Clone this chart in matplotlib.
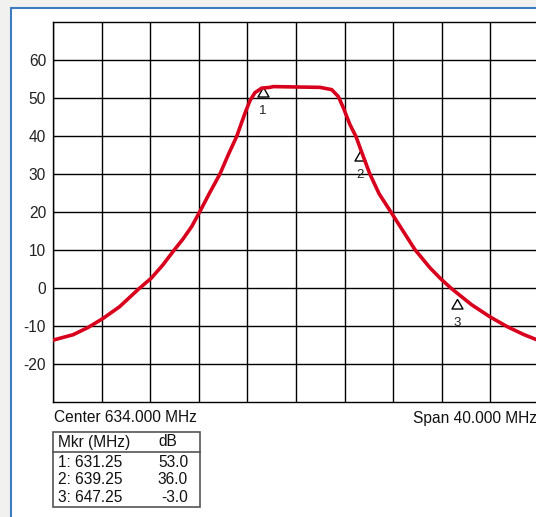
import numpy as np
import matplotlib.pyplot as plt
from matplotlib.patches import Rectangle
from matplotlib.lines import Line2D

plt.rcParams['font.family'] = ['Liberation Sans', 'DejaVu Sans']

# trace
freq = [614.0, 614.14, 615.65, 616.88, 618.12, 619.49, 621.0, 622.09, 623.05, 624.0,
        624.7, 625.42, 626.1, 626.92, 627.74, 628.43, 629.12, 629.8, 630.21, 630.62,
        631.18, 631.86, 632.13, 634.06, 635.98, 636.94, 637.48, 637.9, 638.44, 638.93,
        639.54, 640.08, 640.84, 641.87, 642.83, 643.79, 645.03, 645.92, 646.74, 648.45,
        649.97, 651.34, 652.71, 653.8, 654.0]
level = [-13.8, -13.6, -12.3, -10.4, -8.0, -4.9, -0.4, 2.6, 6.1, 10.1,
         12.9, 16.2, 20.2, 25.2, 30.0, 35.1, 39.9, 46.0, 49.3, 51.4,
         52.6, 52.8, 53.0, 52.9, 52.8, 52.2, 50.4, 47.4, 43.0, 39.9,
         34.6, 30.0, 24.8, 19.7, 14.9, 10.1, 5.3, 2.4, 0.0, -4.4,
         -7.6, -10.1, -12.2, -13.6, -13.8]

center = 634.0
span = 40.0
mkr_freq = [631.25, 639.25, 647.25]
mkr_db = [53.0, 36.0, -3.0]
yticks = [-20, -10, 0, 10, 20, 30, 40, 50, 60]

W, H = 536, 517
fs = 11.2
fig = plt.figure(figsize=(W / 100, H / 100), dpi=100)
fig.patch.set_facecolor('#f1f1ef')


def px(x, y):
    return x / W, 1 - y / H


# white panel with blue frame
fig.patches.append(Rectangle(px(11, 530), 0.99, (530 - 8) / H, transform=fig.transFigure,
                             facecolor='white', edgecolor='#3d7cc0', lw=1.5, zorder=-5))

ax = fig.add_axes([53 / W, (H - 402) / H, 486 / W, 380 / H])
ax.set_xlim(center - span / 2, center + span / 2)
ax.set_ylim(-30, 70)
ax.set_xticks(np.arange(center - span / 2, center + span / 2 + 0.1, 4))
ax.set_xticklabels([])
ax.set_yticks(yticks)
ax.set_yticklabels([str(t) for t in yticks], fontsize=fs, color='#222222')
ax.tick_params(length=0, pad=5)
ax.grid(True, color='black', lw=1.0)
for s in ax.spines.values():
    s.set_color('black')
    s.set_linewidth(1.0)

# marker labels (under the trace)
tri = [(0, 0), (-5.5, -9.5), (5.5, -9.5), (0, 0)]
for i, (f, d) in enumerate(zip(mkr_freq, mkr_db)):
    ax.plot(f, d, marker=tri, ms=13.7, mfc='none', mec='black', mew=1.0, zorder=3)
    ax.annotate(str(i + 1), (f, d), xytext=(0, -13), textcoords='offset points',
                ha='center', va='top', fontsize=9.5, color='#222222', zorder=3)

ax.plot(freq, level, color='#d8001c', lw=2.6, zorder=4,
        solid_capstyle='round', solid_joinstyle='round')

# footer
fig.text(*px(54, 418), 'Center %.3f MHz' % center, fontsize=fs, va='center', color='#111111')
fig.text(*px(413, 418), 'Span %.3f MHz' % span, fontsize=fs, va='center', color='#111111')

# marker table
x0, x1, y0, y1 = 53, 200, 431.7, 506.7
fig.patches.append(Rectangle(px(x0, y1), (x1 - x0) / W, (y1 - y0) / H, transform=fig.transFigure,
                             facecolor='none', edgecolor='#555555', lw=1.2))
fig.lines.append(Line2D([x0 / W, x1 / W], [1 - 452.3 / H] * 2, transform=fig.transFigure,
                        color='#555555', lw=1.2))
fig.text(*px(58, 442), 'Mkr (MHz)', fontsize=fs, va='center', color='#111111')
fig.text(*px(158, 442), 'dB', fontsize=fs, va='center', color='#111111')
rows_y = [462.3, 480.0, 497.7]
for i, (f, d) in enumerate(zip(mkr_freq, mkr_db)):
    fig.text(*px(58, rows_y[i]), '%d: %.2f' % (i + 1, f), fontsize=fs, va='center', color='#111111')
    fig.text(*px(188, rows_y[i]), '%.1f' % d, fontsize=fs, va='center', ha='right', color='#111111')

fig.savefig('out.png', dpi=100)
